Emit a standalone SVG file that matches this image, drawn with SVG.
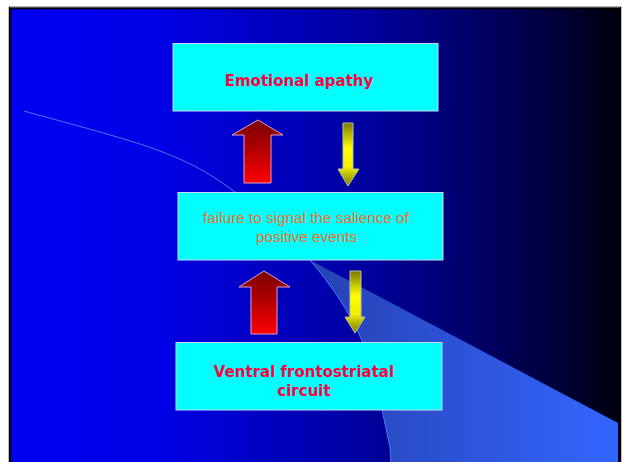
<svg xmlns="http://www.w3.org/2000/svg" width="623" height="462" viewBox="0 0 623 462">
  <defs>
    <linearGradient id="bg" x1="10" y1="0" x2="620" y2="0" gradientUnits="userSpaceOnUse">
      <stop offset="0" stop-color="#0000f2"/>
      <stop offset="0.25" stop-color="#0000e6"/>
      <stop offset="0.6" stop-color="#00009a"/>
      <stop offset="0.85" stop-color="#00004a"/>
      <stop offset="1" stop-color="#000010"/>
    </linearGradient>
    <linearGradient id="wedge" x1="310" y1="0" x2="618" y2="0" gradientUnits="userSpaceOnUse">
      <stop offset="0" stop-color="#2642b2"/>
      <stop offset="1" stop-color="#3366ff"/>
    </linearGradient>
    <linearGradient id="redArrow" x1="0" y1="0" x2="0" y2="1">
      <stop offset="0" stop-color="#7a0000"/>
      <stop offset="0.45" stop-color="#b00000"/>
      <stop offset="1" stop-color="#ff0000"/>
    </linearGradient>
    <linearGradient id="yelArrow" x1="0" y1="0" x2="0" y2="1">
      <stop offset="0" stop-color="#7a7a00"/>
      <stop offset="0.4" stop-color="#ffff00"/>
      <stop offset="0.7" stop-color="#f0f000"/>
      <stop offset="0.85" stop-color="#b0b000"/>
      <stop offset="1" stop-color="#808000"/>
    </linearGradient>
    <linearGradient id="yelShade" x1="0" y1="0" x2="1" y2="0">
      <stop offset="0" stop-color="#000000" stop-opacity="0.15"/>
      <stop offset="0.5" stop-color="#000000" stop-opacity="0"/>
      <stop offset="1" stop-color="#000000" stop-opacity="0.15"/>
    </linearGradient>
  </defs>
  <style>
    .box { fill: #00ffff; stroke: #c8d8ff; stroke-width: 1; }
    .bold { font-family: "DejaVu Sans", Verdana, sans-serif; font-weight: bold; font-size: 15px; fill: #ff0040; text-anchor: middle; }
    .reg { font-family: "Liberation Sans", Arial, sans-serif; font-size: 15.3px; fill: #f0702a; text-anchor: middle; }
    .up { fill: url(#redArrow); stroke: #e0a0c0; stroke-width: 1; }
    .down { fill: url(#yelArrow); stroke: #c0c0a0; stroke-width: 1; }
  </style>

  <!-- background slide -->
  <rect x="0" y="0" width="623" height="462" fill="#ffffff"/>
  <rect x="10" y="8" width="610" height="456" fill="url(#bg)"/>
  <path d="M310,260 C331.3,285.2 349.7,311.8 363,343 C376.3,374.2 385.3,427.2 390,447 L391,464 L618,464 L618,423 Z" fill="url(#wedge)"/>
  <path d="M24,111 C46.7,117.7 124.8,137.5 160,151 C195.2,164.5 210,173.8 235,192 C260,210.2 288.7,234.8 310,260 C331.3,285.2 349.7,311.8 363,343 C376.3,374.2 385.3,427.2 390,447 L391,464" fill="none" stroke="#4a78ff" stroke-width="1"/>
  <rect x="10" y="8" width="610" height="456" fill="none" stroke="#000000" stroke-width="2.5"/>
  <line x1="10" y1="7" x2="620" y2="7" stroke="#a0a0a0" stroke-width="1"/>

  <g id="node-emotional-apathy">
    <rect class="box" x="173" y="43.5" width="265" height="67.5"/>
    <text class="bold" x="299" y="86">Emotional apathy</text>
  </g>

  <g id="node-failure">
    <rect class="box" x="178" y="192.5" width="265" height="67.5"/>
    <text class="reg" x="306" y="223">failure to signal the salience of</text>
    <text class="reg" x="306.5" y="242">positive events</text>
  </g>

  <g id="node-ventral">
    <rect class="box" x="176" y="342.5" width="266" height="67.5"/>
    <text class="bold" x="304" y="377">Ventral frontostriatal</text>
    <text class="bold" x="304" y="396">circuit</text>
  </g>

  <g id="connectors">
    <polygon class="up" points="258,120 283,135 271,135 271,183 244,183 244,135 232,135"/>
    <polygon class="down" points="343,123 353,123 353,169 359,169 348,186 338,169 343,169"/>
    <polygon class="up" points="264,271 290,287 277,287 277,334 251,334 251,287 239,287"/>
    <polygon class="down" points="350,271 361,271 361,317 365,317 355,333 345,317 350,317"/>
  </g>
</svg>
